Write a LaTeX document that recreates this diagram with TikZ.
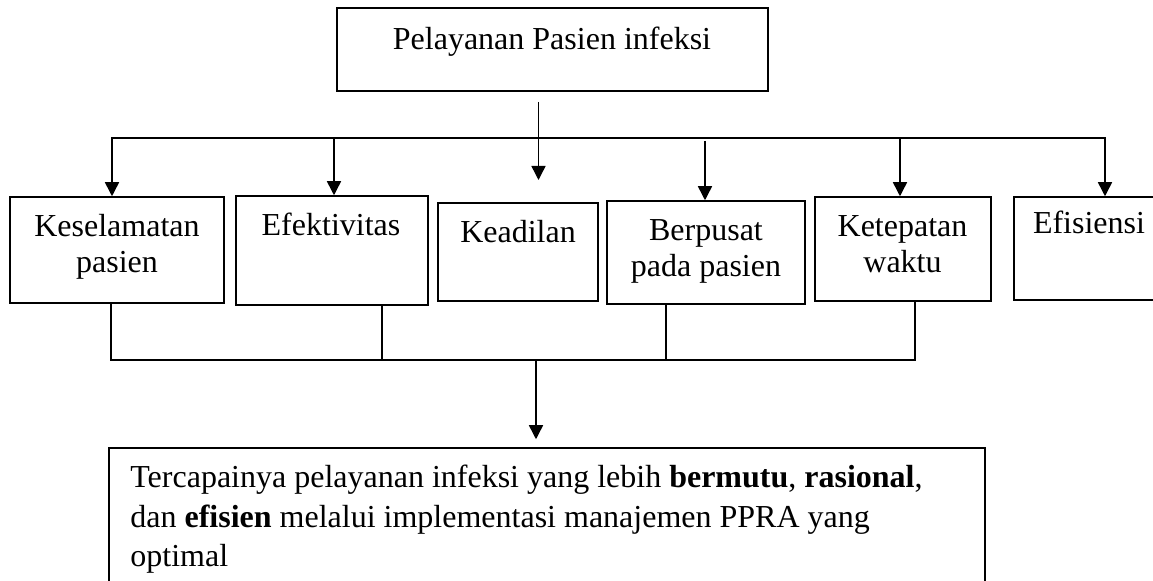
\documentclass[tikz,border=0pt]{standalone}
\usepackage{fontspec}
\setmainfont{Liberation Serif}
\usetikzlibrary{arrows.meta,fit}
\begin{document}
\begin{tikzpicture}[x=0.5pt,y=-0.5pt,
  ln/.style={line width=0.75pt, line cap=rect},
  arr/.style={line width=0.75pt, -{Triangle[width=7pt,length=7pt]}},
  box/.style={draw, line width=0.75pt, inner sep=0pt},
  lbl/.style={font=\fontsize{16}{18}\selectfont, inner sep=0pt}
]
\useasboundingbox (0,0) rectangle (1153,581);
\clip (0,0) rectangle (1153,581);

% boxes
\node[box, fit={(337,8) (768,91)}] (top) {};
\node[box, fit={(10,197) (224,303)}] (b1) {};
\node[box, fit={(236,196) (428,305)}] (b2) {};
\node[box, fit={(438,203) (598,301)}] (b3) {};
\node[box, fit={(607,201) (805,304)}] (b4) {};
\node[box, fit={(815,197) (991,301)}] (b5) {};
\node[box, fit={(1014,197) (1200,300)}] (b6) {};
\node[box, fit={(109,448) (985,640)}] (b7) {};

% labels
\node[lbl, anchor=base] (t0) at (552,50) {Pelayanan Pasien infeksi};
\node[lbl, anchor=base] (t1a) at (117,237) {Keselamatan};
\node[lbl, anchor=base] (t1b) at (117,273) {pasien};
\node[lbl, anchor=base] (t2) at (331,236) {Efektivitas};
\node[lbl, anchor=base] (t3) at (518,243) {Keadilan};
\node[lbl, anchor=base] (t4a) at (706,241) {Berpusat};
\node[lbl, anchor=base] (t4b) at (706,277) {pada pasien};
\node[lbl, anchor=base] (t5a) at (902.5,237) {Ketepatan};
\node[lbl, anchor=base] (t5b) at (902.5,273) {waktu};
\node[lbl, anchor=base] (t6) at (1089,234) {Efisiensi};
\node[lbl, anchor=base west] (t7a) at (130,488) {Tercapainya pelayanan infeksi yang lebih \textbf{bermutu}, \textbf{rasional},};
\node[lbl, anchor=base west] (t7b) at (130,527.5) {dan \textbf{efisien} melalui implementasi manajemen PPRA yang};
\node[lbl, anchor=base west] (t7c) at (130,567) {optimal};

% top bus
\coordinate (c0) at (538.5,102);
\coordinate (c1) at (538.5,180);
\draw[arr] (c0) -- (c1);
\coordinate (bL) at (112,138);
\coordinate (bR) at (1105,138);
\draw[ln] (bL) -- (bR);
\coordinate (a2) at (334,138);
\coordinate (a4) at (705,141);
\coordinate (a5) at (900,138);
\draw[arr] (bL) -- (bL |- b1.north);
\draw[arr] (a2) -- (a2 |- b2.north);
\draw[arr] (a4) -- (a4 |- b4.north);
\draw[arr] (a5) -- (a5 |- b5.north);
\draw[arr] (bR) -- (bR |- b6.north);

% bottom bus
\coordinate (d1) at (111,360);
\coordinate (d2) at (382,360);
\coordinate (d4) at (666,360);
\coordinate (d5) at (915,360);
\coordinate (dm) at (536,360);
\draw[ln] (d1 |- b1.south) -- (d1);
\draw[ln] (d2 |- b2.south) -- (d2);
\draw[ln] (d4 |- b4.south) -- (d4);
\draw[ln] (d5 |- b5.south) -- (d5);
\draw[ln] (d1) -- (d5);
\draw[arr] (dm) -- ([yshift=4pt]dm |- b7.north);
\end{tikzpicture}
\end{document}
